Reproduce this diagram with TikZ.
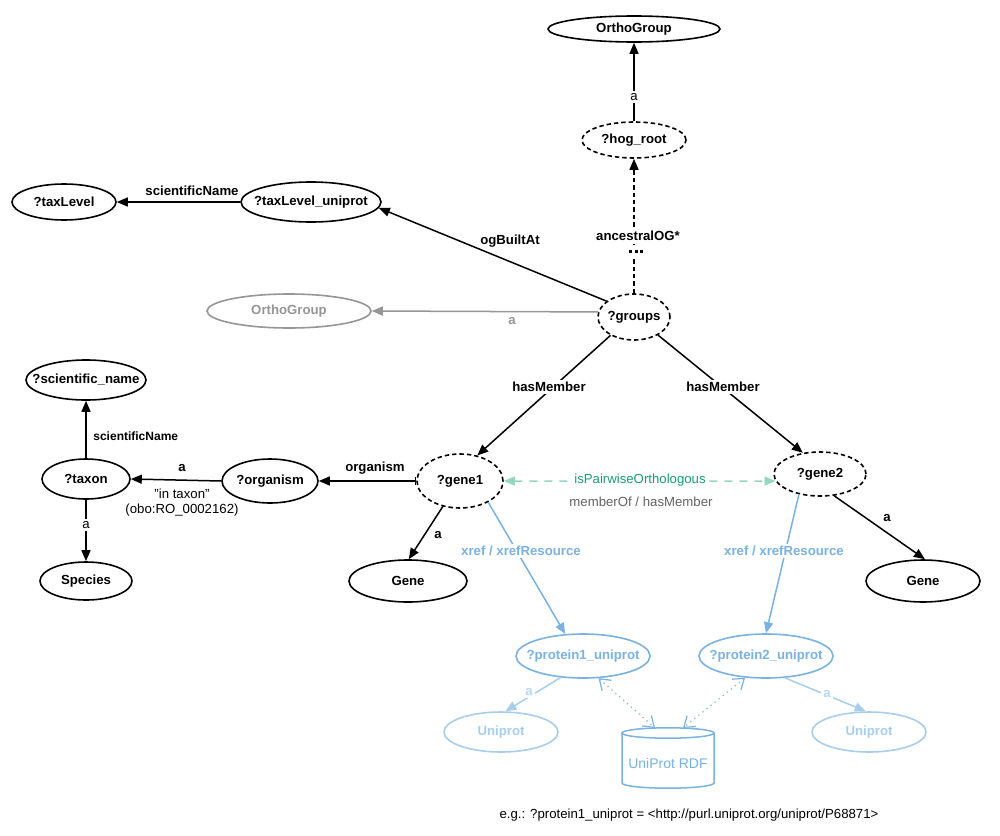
\documentclass[tikz,border=0pt]{standalone}
\usepackage{fontspec}
\setmainfont{Liberation Sans}
\usetikzlibrary{shapes.geometric,arrows.meta}
\definecolor{cblue}{RGB}{122,178,226}
\definecolor{clblue}{RGB}{168,206,238}
\definecolor{cvlblue}{RGB}{185,216,242}
\definecolor{cgray}{RGB}{150,150,150}
\definecolor{cteal}{RGB}{30,155,115}
\definecolor{cteall}{RGB}{150,215,195}
\definecolor{cdgray}{RGB}{100,100,100}
\begin{document}
\begin{tikzpicture}[x=0.5pt,y=-0.5pt,
  every node/.style={font=\fontsize{6.6}{8}\selectfont},
  el/.style 2 args={ellipse, draw, line width=0.8pt, inner xsep=-12pt, inner ysep=0pt,
    minimum width=#1pt, minimum height=#2pt, font=\fontsize{6.6}{8}\selectfont\bfseries},
  dsh/.style={dash pattern=on 2.2pt off 1.5pt},
  tip/.style={-{Triangle[length=5.5pt,width=4.5pt]}},
  conn/.style={line width=0.75pt, tip},
  lbl/.style={font=\fontsize{6.6}{8}\selectfont\bfseries, inner sep=1pt},
  lbln/.style={font=\fontsize{6.6}{8}\selectfont, inner sep=1pt},
  lblsmall/.style={font=\fontsize{6}{7}\selectfont\bfseries, inner sep=1pt},
  barb/.style={{Straight Barb[length=5pt,width=7pt]}-{Straight Barb[length=5pt,width=7pt]}},
]
\useasboundingbox[fill=white] (0,0) rectangle (1000,835);

% nodes
\node[el={86}{13}] (og) at (634,29) {OrthoGroup};
\node[el={52}{18}, dsh] (hog) at (634,140) {?hog\_root};
\node[el={70}{20}] (tlu) at (311,202) {?taxLevel\_uniprot};
\node[el={52}{18}] (tl) at (64,202) {?taxLevel};
\node[el={36}{23}, dsh] (groups) at (634,317) {?groups};
\node[el={82}{17}, draw=cgray, text=cgray] (gog) at (289,311) {OrthoGroup};
\node[el={60}{20}] (sn) at (86,380) {?scientific\_name};
\node[el={44}{20}] (taxon) at (86,479) {?taxon};
\node[el={46}{19}] (species) at (86,581) {Species};
\node[el={48}{22}] (organism) at (270,481) {?organism};
\node[el={43}{27}, dsh] (gene1) at (460,481) {?gene1};
\node[el={46}{22}, dsh] (gene2) at (820,474) {?gene2};
\node[el={59}{21}] (geneL) at (408,581) {Gene};
\node[el={57}{21}] (geneR) at (923,581) {Gene};
\node[el={67}{22}, draw=cblue, text=cblue] (p1) at (583,656) {?protein1\_uniprot};
\node[el={67}{22}, draw=cblue, text=cblue] (p2) at (766,656) {?protein2\_uniprot};
\node[el={57}{20}, draw=clblue, text=clblue] (uL) at (501,732) {Uniprot};
\node[el={57}{20}, draw=clblue, text=clblue] (uR) at (869,732) {Uniprot};

% cylinder
\draw[cblue, line width=0.75pt] (622,733) -- (622,783)
  arc[start angle=180, end angle=360, x radius=23pt, y radius=2.6pt] -- (714,733);
\draw[cblue, line width=0.75pt] (668,733) ellipse [x radius=23pt, y radius=2.6pt];
\node[lbln, text=cblue, font=\fontsize{7}{8}\selectfont] (rdf) at (668,763) {UniProt RDF};
\coordinate (rdf1) at (655,728);
\coordinate (rdf2) at (683,728);

% edges
\draw[conn] (hog) -- (og);
\node[lbln, fill=white] (la1) at (634,97) {a};

\draw[conn, dsh] (groups.north) -- (hog.south);
\node[fill=white, inner sep=0pt, minimum width=12pt, minimum height=6pt] (ldots) at (634,251) {};
\fill (629,249.5) rectangle +(3,3);
\fill (634.5,249.5) rectangle +(3,3);
\fill (640,249.5) rectangle +(3,3);
\node[lbl, fill=white, inner sep=0.6pt] (lanc) at (638,236) {ancestralOG*};

\draw[conn] (groups.150) -- (tlu.-5);
\node[lbl] (logb) at (510,241) {ogBuiltAt};

\draw[conn] (tlu.west) -- (tl.east);
\node[lbl] (lsci1) at (192,191) {scientificName};

\draw[conn, cgray] (groups.172) -- (gog.east);
\node[lbl, text=cgray] (lag) at (512,321) {a};

\draw[conn] (groups.218) -- (gene1.56);
\node[lbl, fill=white] (lhm1) at (549,387) {hasMember};
\draw[conn] (groups.323) -- (gene2.129);
\node[lbl, fill=white] (lhm2) at (723,387) {hasMember};

\draw[line width=0.75pt, {Bar[width=4pt]}-{Triangle[length=5.5pt,width=4.5pt]}] (gene1.west) -- (organism.east);
\node[lbl] (lorg) at (375,468) {organism};

\draw[conn] (organism.west) -- (taxon.east);
\node[lbl] (lta) at (182,468) {a};
\node[lbln] (lint) at (182,494) {"in taxon"};
\node[lbln] (lobo) at (182,510) {(obo:RO\_0002162)};

\draw[conn] (taxon.north) -- (sn.south);
\node[lblsmall, anchor=west] (lsci2) at (91,436) {scientificName};

\draw[conn] (taxon.south) -- (species.north);
\node[lbln, fill=white] (lsa) at (86,525) {a};

\draw[conn] (gene1.236) -- (geneL.88);
\node[lbl] (lg1a) at (438,535) {a};
\draw[conn] (gene2.303) -- (geneR.85);
\node[lbl] (lg2a) at (887,518) {a};

\draw[line width=0.75pt, cteall, dash pattern=on 4pt off 3.5pt,
  {Triangle[length=5.5pt,width=4.5pt]}-{Triangle[length=5.5pt,width=4.5pt]}] (gene1.east) -- (gene2.189);
\node[lbln, text=cteal, fill=white] (lpo) at (640,480) {isPairwiseOrthologous};
\node[lbln, text=cdgray] (lmo) at (641,502) {memberOf / hasMember};

\draw[conn, cblue] (gene1.323) -- (p1.129);
\node[lbl, text=cblue, fill=white] (lx1) at (521,551) {xref / xrefResource};
\draw[conn, cblue] (gene2.224) -- (p2.90);
\node[lbl, text=cblue, fill=white] (lx2) at (784,551) {xref / xrefResource};

\draw[conn, clblue] (p1.224) -- (uL.78);
\node[lbl, text=cvlblue, fill=white] (lu1) at (529,692) {a};
\draw[conn, clblue] (p2.311) -- (uR.99);
\node[lbl, text=cvlblue, fill=white] (lu2) at (827,694) {a};

\draw[cblue, line width=0.6pt, dotted, barb] (p1.305) -- (rdf1);
\draw[cblue, line width=0.6pt, dotted, barb] (p2.226) -- (rdf2);

\node[lbln] (eg) at (689,815) {e.g.: ?protein1\_uniprot = <http://purl.uniprot.org/uniprot/P68871>};
\end{tikzpicture}
\end{document}
